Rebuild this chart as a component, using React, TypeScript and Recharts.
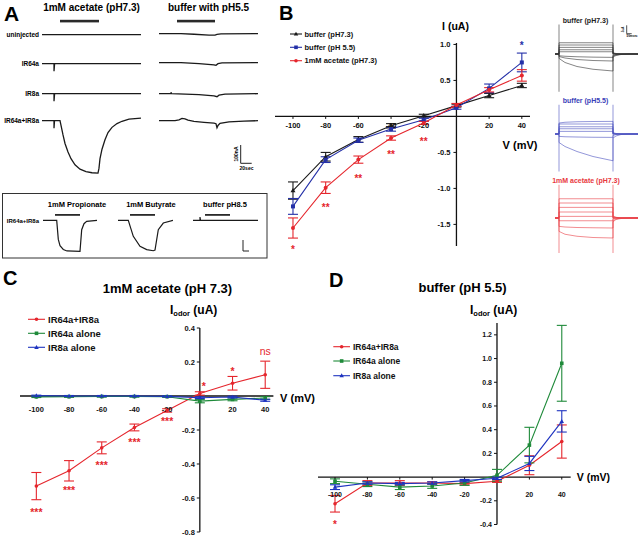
import React from 'react';
import {
  ComposedChart,
  LineChart,
  Line,
  XAxis,
  YAxis,
  ErrorBar,
  ReferenceLine,
  ReferenceDot,
} from 'recharts';

const FONT = '"Liberation Sans", Arial, Helvetica, sans-serif';
const AXIS = '#111';
const BLACK = '#1a1a1a';
const BLUE_B = '#2430a8';
const RED = '#e5262d';
const GREEN = '#1f8a3a';
const BLUE = '#1f34c0';

type Pt = [number, number];

// ---- I-V data (voltage steps, mV) ----
const voltages = [-100, -80, -60, -40, -20, 0, 20, 40];
const voltageTicks = [-100, -80, -60, -40, -20, 20, 40];

// panel B: whole-cell current (uA)
const bBuffer73 = [-1.03, -0.56, -0.32, -0.13, 0.01, 0.15, 0.29, 0.43];
const bBuffer73Err = [0.12, 0.06, 0.04, 0.03, 0.02, 0.02, 0.03, 0.03];
const bBuffer55 = [-1.25, -0.6, -0.33, -0.175, -0.045, 0.12, 0.39, 0.75];
const bBuffer55Err = [0.11, 0.04, 0.03, 0.03, 0.02, 0.02, 0.06, 0.13];
const bAcetate = [-1.55, -0.99, -0.6, -0.3, -0.09, 0.16, 0.37, 0.57];
const bAcetateErr = [0.14, 0.08, 0.05, 0.03, 0.02, 0.02, 0.03, 0.08];
const bTicks = [1.0, 0.5, -0.5, -1.0, -1.5];

// panel C: I odor, 1mM acetate (pH 7.3)
const cDouble = [-0.53, -0.44, -0.305, -0.185, -0.085, 0.015, 0.075, 0.125];
const cDoubleErr = [0.08, 0.06, 0.035, 0.02, 0.01, 0.01, 0.04, 0.08];
const cIR64a = [-0.005, -0.004, -0.003, -0.003, -0.004, -0.03, -0.02, -0.012];
const cIR64aErr = [0.004, 0.004, 0.004, 0.004, 0.004, 0.01, 0.008, 0.008];
const cIR8a = [0.002, 0, 0, 0, -0.002, -0.01, -0.006, -0.025];
const cIR8aErr = [0.003, 0.003, 0.003, 0.003, 0.003, 0.005, 0.005, 0.006];
const cTicks = [0.4, 0.2, -0.2, -0.4, -0.6, -0.8];

// panel D: I odor, buffer (pH 5.5)
const dDouble = [-0.225, -0.05, -0.05, -0.05, -0.055, -0.035, 0.1, 0.3];
const dDoubleErr = [0.07, 0.02, 0.02, 0.01, 0.01, 0.01, 0.08, 0.14];
const dIR64a = [-0.035, -0.06, -0.085, -0.075, -0.05, 0.015, 0.27, 0.96];
const dIR64aErr = [0.02, 0.02, 0.02, 0.02, 0.02, 0.05, 0.15, 0.32];
const dIR8a = [-0.085, -0.05, -0.055, -0.05, -0.03, -0.01, 0.115, 0.47];
const dIR8aErr = [0.02, 0.01, 0.01, 0.01, 0.01, 0.01, 0.06, 0.09];
const dTicks = [1.2, 1.0, 0.8, 0.6, 0.4, 0.2, -0.2, -0.4];

// significance marks [voltage, current, text]
const notesB: [number, number, string, string][] = [
  [-100, -1.82, '*', RED],
  [-80, -1.23, '**', RED],
  [-60, -0.83, '**', RED],
  [-40, -0.5, '**', RED],
  [-20, -0.31, '**', RED],
  [40, 1.02, '*', BLUE_B],
];
const notesC: [number, number, string, string][] = [
  [-100, -0.672, '***', RED],
  [-80, -0.543, '***', RED],
  [-60, -0.396, '***', RED],
  [-40, -0.26, '***', RED],
  [-20, -0.137, '***', RED],
  [2.5, 0.069, '*', RED],
  [20, 0.157, '*', RED],
  [40, 0.257, 'ns', RED],
];
const notesD: [number, number, string, string][] = [[-100, -0.38, '*', RED]];

// ---- panel A traces (t in s, current in nA) ----
const trUninjAcetate: Pt[] = [[0, 0], [99, 0]];
const trIR64aAcetate: Pt[] = [[0, 0], [12, 0], [12, -40], [12.6, 0], [99, 0]];
const trIR8aAcetate: Pt[] = [[0, 0], [12, 0], [12, -40], [12.6, 0], [99, 0]];
const trDoubleAcetate: Pt[] = [
  [0, 0], [12, 0], [12, -40], [12.5, 0], [18, 0], [19, -25], [21, -75], [23, -120],
  [26, -165], [29, -200], [33, -232], [38, -255], [44, -268], [50, -274], [56, -276],
  [57, -250], [58, -200], [60, -150], [63, -100], [66, -62], [70, -35], [75, -15],
  [80, -3], [87, 8], [99, 14],
];
const trUninjPH55: Pt[] = [[0, 0], [22, 0], [35, -3], [50, -7], [56, -8], [58, -4], [62, -1], [99, 0]];
const trIR64aPH55: Pt[] = [[0, 0], [22, 0], [40, -5], [55, -11], [57, -14], [59, -5], [63, -1], [99, 0]];
const trIR8aPH55: Pt[] = [[0, 0], [12, 0], [12, 8], [12.5, 0], [40, -5], [55, -12], [58, -16], [60, -8], [66, -2], [99, 0]];
const trDoublePH55: Pt[] = [
  [0, 0], [16, 0], [20, 4], [23, 12], [26, 10], [29, 3], [35, -4], [45, -9], [55, -13],
  [57, -16], [58, -37], [59, -25], [61, -14], [70, -6], [85, -2], [99, 0],
];
const trPropionate: Pt[] = [
  [0, 0], [13.7, 0], [15.3, -173], [17, -230], [20.3, -264], [24, -278], [37, -282],
  [38.7, -85], [41, -30], [43.7, -9], [54, 0],
];
const trButyrate: Pt[] = [
  [0, 0], [10.3, 0], [12, -50], [15.3, -145], [22, -236], [28.7, -266], [35.3, -276],
  [37, -270], [40.3, -85], [45.3, -24], [55, 0],
];
const trPH85: Pt[] = [[0, 0], [7, 0], [7, 30], [7.5, 0], [65, 0]];

// ---- voltage-step current families (t in ms, current in uA) ----
const pulseT = [6, 12, 24, 40, 60];
const tailT = [60, 63, 68, 76, 85];
const sweeps73 = [
  { pulse: [4.5, 4.5, 4.5, 4.5, 4.5], tail: [0.5, 0.2, 0, 0, 0] },
  { pulse: [3.6, 3.6, 3.6, 3.6, 3.6], tail: [0.3, 0.1, 0, 0, 0] },
  { pulse: [2.65, 2.65, 2.65, 2.65, 2.65], tail: [0.2, 0, 0, 0, 0] },
  { pulse: [1.7, 1.7, 1.7, 1.7, 1.7], tail: [0, 0, 0, 0, 0] },
  { pulse: [0.9, 0.9, 0.9, 0.9, 0.9], tail: [0, 0, 0, 0, 0] },
  { pulse: [-0.7, -0.9, -1.1, -1.25, -1.35], tail: [-0.5, -0.2, 0, 0, 0] },
  { pulse: [-1.0, -1.6, -2.2, -2.6, -2.8], tail: [-0.8, -0.4, -0.1, 0, 0] },
  { pulse: [-1.75, -3.4, -5.0, -6.1, -6.8], tail: [-1.2, -0.6, -0.2, 0, 0] },
];
const sweeps55 = [
  { pulse: [4.4, 4.7, 4.9, 5.0, 5.05], tail: [0.6, 0.2, 0, 0, 0] },
  { pulse: [4.0, 4.0, 4.0, 4.0, 4.0], tail: [0.3, 0.1, 0, 0, 0] },
  { pulse: [2.9, 2.9, 2.9, 2.9, 2.9], tail: [0.2, 0, 0, 0, 0] },
  { pulse: [2.1, 2.1, 2.1, 2.1, 2.1], tail: [0, 0, 0, 0, 0] },
  { pulse: [1.05, 1.05, 1.05, 1.05, 1.05], tail: [0, 0, 0, 0, 0] },
  { pulse: [-0.95, -1.1, -1.2, -1.3, -1.35], tail: [-0.6, -0.2, 0, 0, 0] },
  { pulse: [-3.4, -5.0, -7.0, -9.0, -10.7], tail: [-1.6, -0.8, -0.2, 0, 0] },
];
const sweepsAcetate = [
  { pulse: [7.7, 7.7, 7.7, 7.7, 7.7], tail: [0.8, 0.3, 0, 0, 0] },
  { pulse: [6.0, 6.0, 6.0, 6.0, 6.0], tail: [0.5, 0.2, 0, 0, 0] },
  { pulse: [4.25, 4.25, 4.25, 4.25, 4.25], tail: [0.3, 0, 0, 0, 0] },
  { pulse: [2.4, 2.4, 2.4, 2.4, 2.4], tail: [0, 0, 0, 0, 0] },
  { pulse: [0.65, 0.65, 0.65, 0.65, 0.65], tail: [0, 0, 0, 0, 0] },
  { pulse: [-1.1, -1.1, -1.1, -1.1, -1.1], tail: [-0.3, 0, 0, 0, 0] },
  { pulse: [-3.35, -3.6, -3.8, -3.9, -4.0], tail: [-1.0, -0.4, 0, 0, 0] },
  { pulse: [-5.35, -6.5, -7.3, -7.8, -8.0], tail: [-1.5, -0.6, -0.2, 0, 0] },
];
const artifact73: Pt[][] = [[[6, 11.8], [6, -15.1]], [[60, 11.8], [60, -15.1]]];
const artifact55: Pt[][] = [[[6, 11.7], [6, -15]], [[60, 11.7], [60, -15]]];
const artifactAcetate: Pt[][] = [[[6, 13.3], [6, -14]], [[60, 13.3], [60, -14]]];

const sweepPoints = (s: { pulse: number[]; tail: number[] }): Pt[] => [
  [2, 0],
  [6, 0],
  ...pulseT.map((t, k) => [t, s.pulse[k]] as Pt),
  ...tailT.map((t, k) => [t, s.tail[k]] as Pt),
];

function Trace({ lines, x, y0, width, t1, up, down, scale, color, sw }: any) {
  const height = (up + down) * scale;
  return (
    <div style={{ position: 'absolute', left: x, top: y0 - up * scale }}>
      <LineChart width={width} height={height} margin={{ top: 0, right: 0, bottom: 0, left: 0 }}>
        <XAxis type="number" dataKey="t" domain={[0, t1]} hide />
        <YAxis type="number" domain={[-down, up]} hide />
        {lines.map((pts: Pt[], k: number) => (
          <Line
            key={k}
            data={pts.map(([t, i]) => ({ t, i }))}
            dataKey="i"
            stroke={color}
            strokeWidth={sw}
            dot={false}
            isAnimationActive={false}
          />
        ))}
      </LineChart>
    </div>
  );
}

function Marker({ shape, cx, cy, color, s }: any) {
  if (shape === 'square') return <rect x={cx - s} y={cy - s} width={2 * s} height={2 * s} fill={color} />;
  if (shape === 'triangle')
    return (
      <polygon
        points={`${cx},${cy - s * 1.3} ${cx - s * 1.25},${cy + s * 0.9} ${cx + s * 1.25},${cy + s * 0.9}`}
        fill={color}
      />
    );
  return <circle cx={cx} cy={cy} r={s} fill={color} />;
}

function IVPanel({ box, xDomain, yDomain, series, yTicks, notes, fs, xdy, ygap, ms, noteFs }: any) {
  const m = { top: 24, right: 24, bottom: 30, left: 40 };
  const data = voltages.map((v, i) => {
    const row: any = { v };
    series.forEach((s: any, k: number) => {
      row['s' + k] = s.values[i];
      row['e' + k] = s.errors[i];
    });
    return row;
  });
  const txt = { fontFamily: FONT, fontWeight: 700, fill: AXIS } as any;
  return (
    <div style={{ position: 'absolute', left: box.left - m.left, top: box.top - m.top }}>
      <ComposedChart width={box.width + m.left + m.right} height={box.height + m.top + m.bottom} data={data} margin={m}>
        <XAxis type="number" dataKey="v" domain={xDomain} hide />
        <YAxis type="number" domain={yDomain} hide />
        <ReferenceLine y={0} stroke={AXIS} strokeWidth={1.3} />
        <ReferenceLine x={0} stroke={AXIS} strokeWidth={1.3} />
        {voltageTicks.map((t) => (
          <ReferenceDot
            key={'x' + t}
            x={t}
            y={0}
            ifOverflow="visible"
            shape={(p: any) => (
              <g>
                <line x1={p.cx} y1={p.cy} x2={p.cx} y2={p.cy + 2.5} stroke={AXIS} strokeWidth={1} />
                <text x={p.cx} y={p.cy + xdy} textAnchor="middle" fontSize={fs} {...txt}>
                  {String(t)}
                </text>
              </g>
            )}
          />
        ))}
        {yTicks.map((t: number) => (
          <ReferenceDot
            key={'y' + t}
            x={0}
            y={t}
            ifOverflow="visible"
            shape={(p: any) => (
              <g>
                <line x1={p.cx - 3} y1={p.cy} x2={p.cx} y2={p.cy} stroke={AXIS} strokeWidth={1} />
                <text x={p.cx - ygap} y={p.cy + fs * 0.35} textAnchor="end" fontSize={fs} {...txt}>
                  {t.toFixed(1)}
                </text>
              </g>
            )}
          />
        ))}
        {series.map((s: any, k: number) => (
          <Line
            key={s.name}
            dataKey={'s' + k}
            stroke={s.color}
            strokeWidth={1.1}
            isAnimationActive={false}
            dot={(p: any) => <Marker key={'d' + k + '-' + p.index} shape={s.shape} cx={p.cx} cy={p.cy} color={s.color} s={ms} />}
          >
            <ErrorBar dataKey={'e' + k} width={5} stroke={s.color} strokeWidth={1.1} direction="y" isAnimationActive={false} />
          </Line>
        ))}
        {notes.map(([v, y, text, color]: any, k: number) => (
          <ReferenceDot
            key={'n' + k}
            x={v}
            y={y}
            ifOverflow="visible"
            shape={(p: any) => {
              const stars = text.indexOf('*') >= 0;
              const f = stars ? noteFs : noteFs;
              return (
                <text
                  x={p.cx}
                  y={p.cy + f * (stars ? 0.58 : 0.27)}
                  textAnchor="middle"
                  fontSize={f}
                  fontFamily={FONT}
                  fontWeight={stars ? 700 : 400}
                  fill={color}
                >
                  {text}
                </text>
              );
            }}
          />
        ))}
      </ComposedChart>
    </div>
  );
}

function Legend({ items, x1, x2, tx, ys, fs, ms }: any) {
  return (
    <g>
      {items.map((it: any, k: number) => (
        <g key={it.name}>
          <line x1={x1} x2={x2} y1={ys[k]} y2={ys[k]} stroke={it.color} strokeWidth={1.1} />
          <Marker shape={it.shape} cx={(x1 + x2) / 2} cy={ys[k]} color={it.color} s={ms} />
          <text x={tx} y={ys[k] + fs * 0.35} fontSize={fs} fontFamily={FONT} fontWeight={700} fill={AXIS}>
            {it.name}
          </text>
        </g>
      ))}
    </g>
  );
}

const seriesB = [
  { name: 'buffer (pH7.3)', values: bBuffer73, errors: bBuffer73Err, color: BLACK, shape: 'triangle' },
  { name: 'buffer (pH 5.5)', values: bBuffer55, errors: bBuffer55Err, color: BLUE_B, shape: 'square' },
  { name: '1mM acetate (pH7.3)', values: bAcetate, errors: bAcetateErr, color: RED, shape: 'circle' },
];
const seriesC = [
  { name: 'IR64a+IR8a', values: cDouble, errors: cDoubleErr, color: RED, shape: 'circle' },
  { name: 'IR64a alone', values: cIR64a, errors: cIR64aErr, color: GREEN, shape: 'square' },
  { name: 'IR8a alone', values: cIR8a, errors: cIR8aErr, color: BLUE, shape: 'triangle' },
];
const seriesD = [
  { name: 'IR64a+IR8a', values: dDouble, errors: dDoubleErr, color: RED, shape: 'circle' },
  { name: 'IR64a alone', values: dIR64a, errors: dIR64aErr, color: GREEN, shape: 'square' },
  { name: 'IR8a alone', values: dIR8a, errors: dIR8aErr, color: BLUE, shape: 'triangle' },
];

const B = { fontFamily: FONT, fontWeight: 700 } as any;

export default function App() {
  const traceA = { width: 99, t1: 99, scale: 0.19, color: '#1a1a1a', sw: 1.3 };
  const step = { x: 553, width: 85, t1: 85, up: 14, down: 16, scale: 2.5, sw: 0.6 };
  return (
    <div style={{ position: 'absolute', left: 0, top: 0, width: 640, height: 535, background: '#fff', overflow: 'hidden' }}>
      {/* panel A traces */}
      <Trace {...traceA} lines={[trUninjAcetate]} x={42} y0={35} up={30} down={60} />
      <Trace {...traceA} lines={[trIR64aAcetate]} x={42} y0={64} up={30} down={60} />
      <Trace {...traceA} lines={[trIR8aAcetate]} x={42} y0={93.5} up={30} down={60} />
      <Trace {...traceA} lines={[trDoubleAcetate]} x={42} y0={120.7} up={30} down={300} />
      <Trace {...traceA} lines={[trUninjPH55]} x={159} y0={34} up={30} down={60} />
      <Trace {...traceA} lines={[trIR64aPH55]} x={159} y0={62.3} up={30} down={60} />
      <Trace {...traceA} lines={[trIR8aPH55]} x={159} y0={93.3} up={30} down={60} />
      <Trace {...traceA} lines={[trDoublePH55]} x={159} y0={120.7} up={30} down={60} />
      {/* inset traces */}
      <Trace lines={[trPropionate]} x={43} y0={220.7} width={54} t1={54} up={40} down={300} scale={0.11} color="#1a1a1a" sw={1.2} />
      <Trace lines={[trButyrate]} x={118} y0={220.7} width={55} t1={55} up={40} down={300} scale={0.11} color="#1a1a1a" sw={1.2} />
      <Trace lines={[trPH85]} x={193} y0={220.7} width={65} t1={65} up={40} down={300} scale={0.11} color="#1a1a1a" sw={1.2} />
      {/* step families */}
      <Trace {...step} y0={54.3} color="#333" lines={[...sweeps73.map(sweepPoints), ...artifact73]} />
      <Trace {...step} y0={134.3} color="#4a50c0" lines={[...sweeps55.map(sweepPoints), ...artifact55]} />
      <Trace {...step} y0={218.3} color="#ea4046" lines={[...sweepsAcetate.map(sweepPoints), ...artifactAcetate]} />

      <IVPanel
        box={{ left: 274.5, top: 43.3, width: 255, height: 203 }}
        xDomain={[-111, 45]}
        yDomain={[-1.8, 1.02]}
        series={seriesB}
        yTicks={bTicks}
        notes={notesB}
        fs={7.5}
        xdy={12}
        ygap={6}
        ms={2}
        noteFs={10}
      />
      <IVPanel
        box={{ left: 20.1, top: 327.7, width: 253.4, height: 204 }}
        xDomain={[-110, 45]}
        yDomain={[-0.8, 0.4]}
        series={seriesC}
        yTicks={cTicks}
        notes={notesC}
        fs={7.5}
        xdy={16.3}
        ygap={5}
        ms={1.8}
        noteFs={10.5}
      />
      <IVPanel
        box={{ left: 317.7, top: 322.7, width: 252.7, height: 201.5 }}
        xDomain={[-110.5, 45.5]}
        yDomain={[-0.4, 1.3]}
        series={seriesD}
        yTicks={dTicks}
        notes={notesD}
        fs={7}
        xdy={19.8}
        ygap={5}
        ms={1.8}
        noteFs={10}
      />

      <svg width={640} height={535} style={{ position: 'absolute', left: 0, top: 0, pointerEvents: 'none' }}>
        {/* A */}
        <text x={4} y={21} fontSize={21} {...B}>A</text>
        <text x={91.5} y={10.5} fontSize={10} textAnchor="middle" {...B}>1mM acetate (pH7.3)</text>
        <text x={208.5} y={10.5} fontSize={10} textAnchor="middle" {...B}>buffer with pH5.5</text>
        <rect x={60} y={19.8} width={39} height={2.6} fill="#2a2a2a" />
        <rect x={177} y={19.8} width={38} height={2.6} fill="#2a2a2a" />
        {[['uninjected', 35], ['IR64a', 64], ['IR8a', 93.5], ['IR64a+IR8a', 121]].map(([t, y]: any) => (
          <text key={t} x={39} y={y + 2.3} fontSize={6.5} textAnchor="end" {...B}>{t}</text>
        ))}
        <polyline points="240.7,145 240.7,163.3 251.7,163.3" fill="none" stroke="#222" strokeWidth={1} />
        <text x={238} y={154} fontSize={5} textAnchor="middle" transform="rotate(-90 238 154)" {...B}>100nA</text>
        <text x={246.5} y={169.5} fontSize={5} textAnchor="middle" {...B}>20sec</text>

        {/* inset */}
        <rect x={2.5} y={193.5} width={264.5} height={64.5} fill="none" stroke="#333" strokeWidth={1} />
        <text x={77} y={206.5} fontSize={7.5} textAnchor="middle" {...B}>1mM Propionate</text>
        <text x={151} y={206.5} fontSize={7.5} textAnchor="middle" {...B}>1mM Butyrate</text>
        <text x={225} y={206.5} fontSize={7.5} textAnchor="middle" {...B}>buffer pH8.5</text>
        <rect x={55} y={214} width={25} height={1.8} fill="#2a2a2a" />
        <rect x={130} y={214} width={25} height={1.8} fill="#2a2a2a" />
        <rect x={205} y={214} width={25} height={1.8} fill="#2a2a2a" />
        <text x={39} y={222.7} fontSize={6} textAnchor="end" {...B}>IR64a+IR8a</text>
        <polyline points="243,240 243,251 249,251" fill="none" stroke="#222" strokeWidth={1} />

        {/* B */}
        <text x={279} y={20} fontSize={20} {...B}>B</text>
        <Legend items={seriesB} x1={290} x2={302} tx={304.5} ys={[34, 47.3, 60.7]} fs={7.5} ms={1.8} />
        <text x={455.5} y={29.5} fontSize={10.5} textAnchor="middle" {...B}>I (uA)</text>
        <text x={520} y={149} fontSize={11} textAnchor="middle" {...B}>V (mV)</text>

        {/* step family labels */}
        <text x={585.5} y={23} fontSize={7} textAnchor="middle" {...B} fill="#222">buffer (pH7.3)</text>
        <text x={585.5} y={102.5} fontSize={7} textAnchor="middle" {...B} fill="#3a40b8">buffer (pH5.5)</text>
        <text x={586} y={182.5} fontSize={7} textAnchor="middle" {...B} fill="#e8383e">1mM acetate (pH7.3)</text>
        <polyline points="626.7,25.3 626.7,33.7 631.7,33.7" fill="none" stroke="#222" strokeWidth={0.8} />
        <text x={624} y={29.5} fontSize={3} textAnchor="middle" transform="rotate(-90 624 29.5)" {...B}>5uA</text>
        <text x={632} y={37} fontSize={3} textAnchor="middle" {...B}>50msec</text>

        {/* C */}
        <text x={3} y={285} fontSize={20} {...B}>C</text>
        <text x={167.5} y={292.5} fontSize={13} textAnchor="middle" {...B}>1mM acetate (pH 7.3)</text>
        <text x={170} y={314} fontSize={12} {...B}>
          I<tspan fontSize={7.5} dy={2}>odor</tspan>
          <tspan dy={-2}> (uA)</tspan>
        </text>
        <text x={297.5} y={402} fontSize={11} textAnchor="middle" {...B}>V (mV)</text>
        <Legend items={seriesC} x1={28} x2={45} tx={48} ys={[319.3, 333.3, 347.3]} fs={9.5} ms={1.8} />

        {/* D */}
        <text x={329} y={287} fontSize={20} {...B}>D</text>
        <text x={462.5} y={291.5} fontSize={13} textAnchor="middle" {...B}>buffer (pH 5.5)</text>
        <text x={470} y={314} fontSize={12} {...B}>
          I<tspan fontSize={7.5} dy={2}>odor</tspan>
          <tspan dy={-2}> (uA)</tspan>
        </text>
        <text x={593.5} y={481} fontSize={10.5} textAnchor="middle" {...B}>V (mV)</text>
        <Legend items={seriesD} x1={333.3} x2={350} tx={353} ys={[346.7, 361, 375.7]} fs={8.5} ms={1.8} />
      </svg>
    </div>
  );
}
